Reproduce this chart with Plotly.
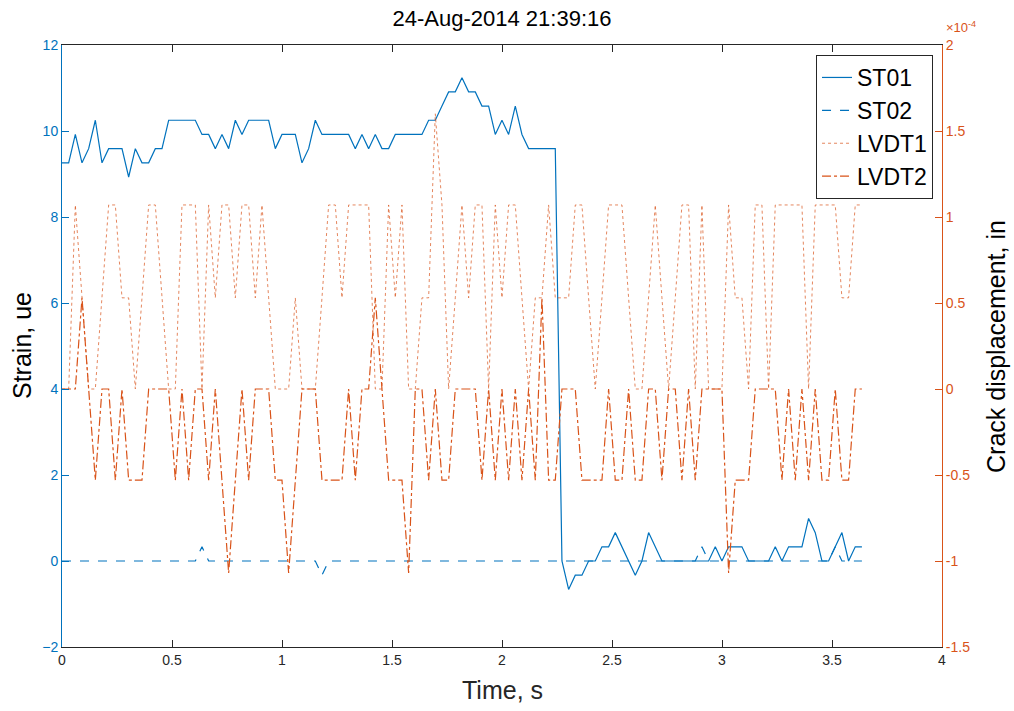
import plotly.graph_objects as go

# ---------------- data ----------------
N_SAMPLES = 121
DT = 0.0303  # s between samples
time_s = [round(i * DT, 4) for i in range(N_SAMPLES)]

st01 = [9.26, 9.26, 9.92, 9.26, 9.59, 10.25, 9.26, 9.59, 9.59, 9.59,
        8.93, 9.59, 9.26, 9.26, 9.59, 9.59, 10.25, 10.25, 10.25, 10.25,
        10.25, 9.92, 9.92, 9.59, 9.92, 9.59, 10.25, 9.92, 10.25, 10.25,
        10.25, 10.25, 9.59, 9.92, 9.92, 9.92, 9.26, 9.59, 10.25, 9.92,
        9.92, 9.92, 9.92, 9.92, 9.59, 9.92, 9.59, 9.92, 9.59, 9.59,
        9.92, 9.92, 9.92, 9.92, 9.92, 10.25, 10.25, 10.58, 10.91, 10.91,
        11.24, 10.91, 10.91, 10.58, 10.58, 9.92, 10.25, 9.92, 10.58, 9.92,
        9.59, 9.59, 9.59, 9.59, 9.59, 0.0, -0.66, -0.33, -0.33, 0.0,
        0.0, 0.33, 0.33, 0.66, 0.33, 0.0, -0.33, 0.0, 0.66, 0.33,
        0.0, 0.0, 0.0, 0.0, 0.0, 0.0, 0.0, 0.0, 0.33, 0.0,
        0.33, 0.33, 0.33, 0.0, 0.0, 0.0, 0.0, 0.33, 0.0, 0.33,
        0.33, 0.33, 0.99, 0.66, 0.0, 0.0, 0.33, 0.66, 0.0, 0.33,
        0.33]

st02 = [0.0] * 21 + [0.33] + [0.0] * 17 + [-0.33] + [0.0] * 56 + [0.33] + [0.0] * 19 + [0.33] + [0.0] * 4

# crack displacement in units of 1e-4 in
lvdt1 = [0, 0, 1.07, 0.53, 0, 0, 0.53, 1.07, 1.07, 0.53,
         0.53, 0, 0.53, 1.07, 1.07, 0.53, 0, 0, 1.07, 1.07,
         1.07, 0, 1.07, 0.53, 1.07, 1.07, 0.53, 1.07, 1.07, 0.53,
         1.07, 0.53, 0, 0, 0, 0.53, 0, 0, 0, 0.53,
         1.07, 1.07, 0.53, 1.07, 1.07, 1.07, 1.07, 0, 0, 1.07,
         0.53, 1.07, 0, 0, 0.53, 0.53, 1.6, 1.07, 0, 0.53,
         1.07, 0.53, 1.07, 1.07, 0, 1.07, 0.53, 1.07, 1.07, 0.53,
         0, 0.53, 0.53, 1.07, 0.53, 0.53, 0.53, 1.07, 1.07, 0.53,
         0, 0.53, 1.07, 1.07, 1.07, 0.53, 0, 0, 0.53, 1.07,
         0.53, 0, 0.53, 1.07, 1.07, 0, 1.07, 0, 0, 0,
         1.07, 0.53, 0.53, 0, 1.07, 1.07, 0, 1.07, 1.07, 1.07,
         1.07, 1.07, 0, 1.07, 1.07, 1.07, 1.07, 0.53, 0.53, 1.07,
         1.07]

lvdt2 = [0, 0, 0, 0.53, 0, -0.53, 0, 0, -0.53, 0,
         -0.53, -0.53, -0.53, 0, 0, 0, 0, -0.53, 0, -0.53,
         0, 0, -0.53, 0, -0.53, -1.07, -0.53, 0, -0.53, 0,
         0, 0, -0.53, -0.53, -1.07, -0.53, 0, 0, 0, -0.53,
         -0.53, -0.53, -0.53, 0, -0.53, 0, 0, 0.53, 0, -0.53,
         -0.53, -0.53, -1.07, 0, 0, -0.53, 0, -0.53, -0.53, 0,
         0, 0, 0, -0.53, 0, -0.53, 0, -0.53, 0, -0.53,
         0, -0.53, 0.53, -0.53, -0.53, 0, 0, 0, -0.53, -0.53,
         -0.53, -0.53, 0, -0.53, -0.53, 0, -0.53, -0.53, 0, 0,
         -0.53, 0, 0, -0.53, 0, -0.53, 0, 0, 0, 0,
         -1.07, -0.53, -0.53, -0.53, 0, 0, 0, 0, -0.53, 0,
         -0.53, 0, -0.53, 0, -0.53, -0.53, 0, -0.53, -0.53, 0,
         0]

x_ticks = [0, 0.5, 1, 1.5, 2, 2.5, 3, 3.5, 4]
x_ticktext = ["0", "0.5", "1", "1.5", "2", "2.5", "3", "3.5", "4"]
y_ticks = [-2, 0, 2, 4, 6, 8, 10, 12]
y2_ticks = [-1.5, -1, -0.5, 0, 0.5, 1, 1.5, 2]
y2_ticktext = ["-1.5", "-1", "-0.5", "0", "0.5", "1", "1.5", "2"]

BLUE = "#0072BD"
ORANGE = "#D95319"
ORANGE_FAINT = "rgba(217,83,25,0.7)"
DARK = "#262626"
FONT = "Liberation Sans, Arial, sans-serif"

fig = go.Figure()
fig.add_trace(go.Scatter(x=time_s, y=st01, mode="lines", name="ST01",
                         line=dict(color=BLUE, width=1.2)))
fig.add_trace(go.Scatter(x=time_s, y=st02, mode="lines", name="ST02",
                         line=dict(color=BLUE, width=1.2, dash="dash")))
fig.add_trace(go.Scatter(x=time_s, y=lvdt1, mode="lines", name="LVDT1", yaxis="y2",
                         line=dict(color=ORANGE_FAINT, width=1, dash="dot")))
fig.add_trace(go.Scatter(x=time_s, y=lvdt2, mode="lines", name="LVDT2", yaxis="y2",
                         line=dict(color=ORANGE, width=1.2, dash="dashdot")))

fig.update_layout(
    width=1014, height=711,
    margin=dict(l=62, r=72, t=45, b=64),
    paper_bgcolor="white", plot_bgcolor="white",
    font=dict(family=FONT, size=14, color=DARK),
    title=dict(text="24-Aug-2014 21:39:16", x=0.4951, xanchor="center",
               y=1 - 18 / 711, yanchor="middle",
               font=dict(family=FONT, size=22, color="#000000")),
    xaxis=dict(range=[0, 4], tickvals=x_ticks, ticktext=x_ticktext,
               showgrid=False, zeroline=False, showline=True, linecolor=DARK,
               linewidth=1, mirror="ticks", ticks="inside", ticklen=7,
               tickcolor=DARK, tickfont=dict(size=14, color=DARK)),
    yaxis=dict(range=[-2, 12], tickvals=y_ticks, showgrid=False, zeroline=False,
               showline=True, linecolor=BLUE, linewidth=1, ticks="inside",
               ticklen=7, tickcolor=BLUE, tickfont=dict(size=14, color=BLUE)),
    yaxis2=dict(range=[-1.5, 2], tickvals=y2_ticks, ticktext=y2_ticktext,
                overlaying="y", side="right", showgrid=False, zeroline=False,
                showline=True, linecolor=ORANGE, linewidth=1, ticks="inside",
                ticklen=7, tickcolor=ORANGE, tickfont=dict(size=14, color=ORANGE)),
    legend=dict(x=0.9898, xanchor="right", y=0.9834, yanchor="top",
                bgcolor="white", bordercolor=DARK, borderwidth=1,
                font=dict(family=FONT, size=23, color="#000000"),
                tracegroupgap=0),
    showlegend=True,
)

fig.add_annotation(text="Time, s", xref="paper", yref="paper",
                   x=0.5, y=-(690 - 647) / 602, xanchor="center", yanchor="middle",
                   showarrow=False, font=dict(family=FONT, size=25, color=DARK))
fig.add_annotation(text="Strain, ue", xref="paper", yref="paper",
                   x=(22 - 62) / 880, y=0.5, xanchor="center", yanchor="middle",
                   textangle=-90, showarrow=False,
                   font=dict(family=FONT, size=25, color="#000000"))
fig.add_annotation(text="Crack displacement, in", xref="paper", yref="paper",
                   x=(996 - 62) / 880, y=0.5, xanchor="center", yanchor="middle",
                   textangle=-90, showarrow=False,
                   font=dict(family=FONT, size=25, color="#000000"))
fig.add_annotation(text="\u00d710<sup>-4</sup>", xref="paper", yref="paper",
                   x=(944 - 62) / 880, y=1.0, xanchor="left", yanchor="bottom",
                   yshift=8, showarrow=False,
                   font=dict(family=FONT, size=13, color=ORANGE))

fig.write_html("out.html")
